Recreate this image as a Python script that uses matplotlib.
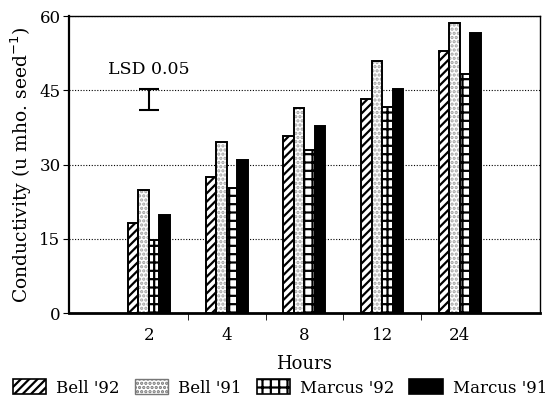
import matplotlib
matplotlib.use('Agg')
import matplotlib.pyplot as plt
import numpy as np
from matplotlib.patches import Patch

# values
hours = ['2', '4', '8', '12', '24']
bell92 = [18.2, 27.4, 35.7, 43.2, 52.9]
bell91 = [24.9, 34.5, 41.5, 50.9, 58.6]
marcus92 = [14.8, 25.3, 33.0, 41.6, 48.4]
marcus91 = [19.9, 31.0, 37.9, 45.2, 56.6]
series_names = ["Bell '92", "Bell '91", "Marcus '92", "Marcus '91"]
lsd_low, lsd_high = 41.0, 45.3

plt.rcParams['font.family'] = ['DejaVu Serif']
plt.rcParams['hatch.linewidth'] = 1.6

fig = plt.figure(figsize=(5.6, 4.05), dpi=100)
ax = fig.add_axes([0.123, 0.227, 0.841, 0.733])

x = np.arange(len(hours))
w = 0.135
styles = [dict(facecolor='white', hatch='////'),
          dict(facecolor='white', hatch='....'),
          dict(facecolor='white', hatch='++'),
          dict(facecolor='black', hatch=None)]
data = [bell92, bell91, marcus92, marcus91]
for i, (vals, st) in enumerate(zip(data, styles)):
    if st['hatch'] == '....':
        # light stipple: gray dots, then a black outline on top
        ax.bar(x + (i - 1.5) * w, vals, w, facecolor='white', hatch='....',
               edgecolor='#a0a0a0', linewidth=0, zorder=3)
        ax.bar(x + (i - 1.5) * w, vals, w, fill=False, edgecolor='black',
               linewidth=1.4, zorder=3)
    else:
        ax.bar(x + (i - 1.5) * w, vals, w, edgecolor='black', linewidth=1.4,
               zorder=3, **st)

# LSD marker
ax.errorbar([0], [(lsd_low + lsd_high) / 2], yerr=[[(lsd_high - lsd_low) / 2]],
            fmt='none', ecolor='black', capsize=7, elinewidth=1.5, capthick=1.5)
ax.text(0, 49.3, 'LSD 0.05', ha='center', va='center', fontsize=12.5)

ax.set_xlim(-1.03, 5.03)
ax.set_ylim(0, 60)
ax.set_yticks([0, 15, 30, 45, 60])
ax.set_xticks(x)
ax.set_xticklabels(hours, fontsize=12)
ax.set_xticks(x[:-1] + 0.5, minor=True)
ax.tick_params(axis='x', which='major', length=0, pad=10)
ax.tick_params(axis='x', which='minor', length=5, direction='out')
ax.tick_params(axis='y', labelsize=12, length=4, pad=2)
ax.grid(axis='y', linestyle=(0, (1, 1.5)), color='black', linewidth=0.8)
for s in ax.spines.values():
    s.set_linewidth(1.0)
ax.spines['bottom'].set_linewidth(2)
ax.spines['left'].set_linewidth(1.6)

ax.set_xlabel('Hours', fontsize=13, labelpad=8)
ax.set_ylabel(r'Conductivity (u mho. seed$^{-1}$)', fontsize=13.5, labelpad=4)

handles = []
for st in styles:
    if st['hatch'] == '....':
        handles.append(Patch(facecolor='white', hatch='....', edgecolor='#777777',
                             linewidth=1.0))
    else:
        handles.append(Patch(edgecolor='black', linewidth=1.2, **st))
fig.legend(handles, series_names, loc='center', bbox_to_anchor=(0.5, 0.042),
           ncol=4, frameon=False, fontsize=12, handlelength=2.0,
           handleheight=1.0, handletextpad=0.6, columnspacing=0.9)

fig.savefig('out.png', dpi=100)
